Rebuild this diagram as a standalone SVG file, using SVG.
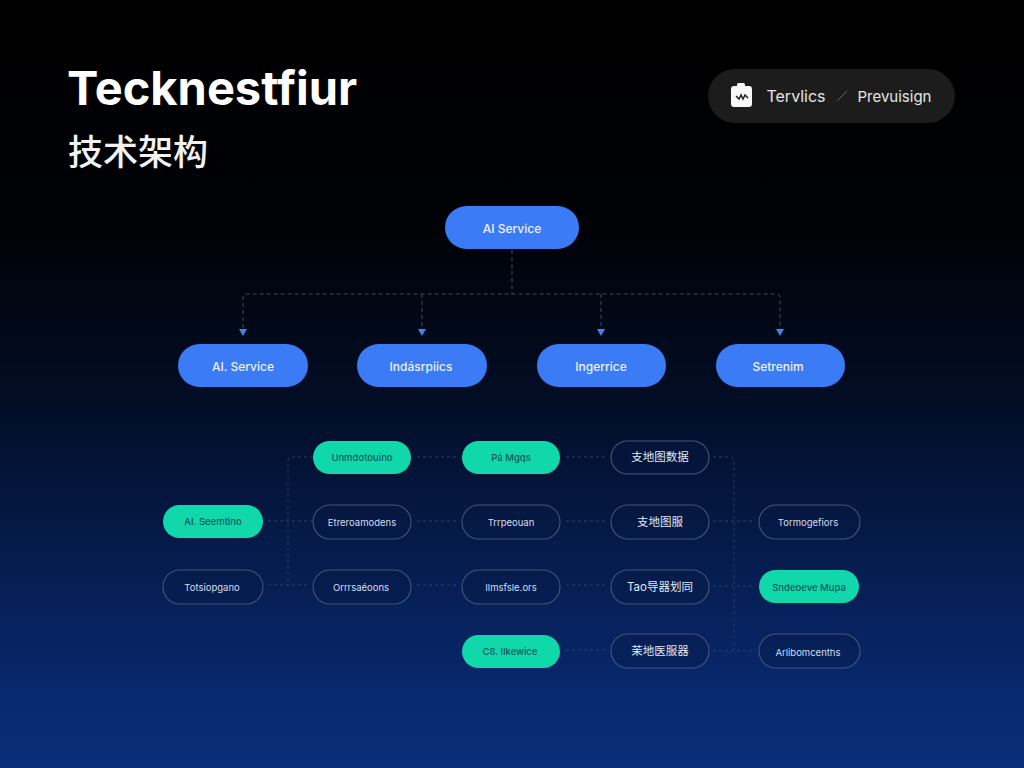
<svg xmlns="http://www.w3.org/2000/svg" width="1024" height="768" viewBox="0 0 1024 768">
<style>
text{font-family:"Inter","Liberation Sans","Noto Sans CJK SC",sans-serif;text-anchor:middle;dominant-baseline:central}
.blue{fill:#3b7bf6}
.green{fill:#10d8aa}
.outline{fill:#071a44;fill-opacity:.35;stroke:#45547a;stroke-width:1.100}
.lb{fill:#eaf2ff;font-size:12px;font-weight:500}
.lg{fill:#0b5a5c;font-size:9.500px;font-weight:500}
.lo{fill:#d5deee;font-size:9.500px}
.lc{fill:#e3e9f5;font-size:11.500px}
.c{fill:none;stroke:#4d5d78;stroke-width:.8;stroke-dasharray:4 3}
.c2{fill:none;stroke:#33466f;stroke-width:.8;stroke-dasharray:3 3}
</style>
<defs>
<linearGradient id="bg" x1="0" y1="0" x2="0" y2="1">
<stop offset="0" stop-color="#000"/>
<stop offset=".3" stop-color="#000206"/>
<stop offset=".5" stop-color="#020c22"/>
<stop offset=".7" stop-color="#051a48"/>
<stop offset=".88" stop-color="#08276a"/>
<stop offset="1" stop-color="#0b2e7c"/>
</linearGradient>
<marker id="arr" markerWidth="8" markerHeight="7" refX="4" refY="6" orient="0" markerUnits="userSpaceOnUse" viewBox="0 0 8 7">
<path d="M0 0H8L4 7Z" fill="#3f86e6"/>
</marker>
</defs>
<rect width="1024" height="768" fill="url(#bg)"/>

<g id="header">
<text x="67" y="87" style="text-anchor:start;font-size:47px;font-weight:700" fill="#fff">Tecknestfiur</text>
<text x="68" y="149" style="text-anchor:start;font-size:35px;font-weight:500;font-family:'Noto Sans CJK SC',sans-serif" fill="#f2f2f2">技术架构</text>
</g>

<g id="badge">
<rect x="708" y="69" width="247" height="54" rx="27" fill="#1c1c1c"/>
<path d="M734 86h3v-1.500q0-1.500 1.500-1.500h5q1.500 0 1.500 1.500v1.500h4q3 0 3 3v15q0 3-3 3h-15q-3 0-3-3v-15q0-3 3-3z" fill="#f7f7f7"/>
<path d="M736 96l3 3 2-4 2 4 2-4 3 3" fill="none" stroke="#222" stroke-width="1.500"/>
<text x="796" y="96" fill="#e6e6e6" style="font-size:16px">Tervlics</text>
<path d="M837 101l10-10" stroke="#666" stroke-width="1"/>
<text x="894.500" y="96" fill="#e6e6e6" style="font-size:15px">Prevuisign</text>
</g>

<g id="connectors">
<path class="c" d="M512 250V294"/>
<path class="c" d="M243 335V298q0-4 4-4H776q4 0 4 4V335" marker-start="url(#arr)" marker-end="url(#arr)"/>
<path class="c" d="M422 294V335" marker-end="url(#arr)"/>
<path class="c" d="M601 294V335" marker-end="url(#arr)"/>
<path class="c2" d="M313 457H292q-4 0-4 4V585"/>
<path class="c2" d="M268 521H313"/>
<path class="c2" d="M268 585H308"/>
<path class="c2" d="M417 457H458M417 521H458M417 585H458"/>
<path class="c2" d="M566 457H607M566 521H607M566 585H607M566 650H607"/>
<path class="c2" d="M713 457H730q4 0 4 4V650"/>
<path class="c2" d="M713 521H755M713 586H755M713 651H755"/>
</g>

<g id="n-top"><rect class="blue" x="445" y="206" width="134" height="43" rx="21.500"/><text class="lb" x="512" y="228">AI Service</text></g>
<g id="n-a1"><rect class="blue" x="178" y="344" width="130" height="43" rx="21.500"/><text class="lb" x="243" y="366">AI. Service</text></g>
<g id="n-a2"><rect class="blue" x="357" y="344" width="130" height="43" rx="21.500"/><text class="lb" x="421" y="366">Indásrpiics</text></g>
<g id="n-a3"><rect class="blue" x="537" y="344" width="129" height="43" rx="21.500"/><text class="lb" x="601" y="366">Ingerrice</text></g>
<g id="n-a4"><rect class="blue" x="716" y="344" width="129" height="43" rx="21.500"/><text class="lb" x="778" y="366">Setrenim</text></g>

<g id="n-r1c1"><rect class="green" x="313" y="441" width="98" height="33" rx="16.500"/><text class="lg" x="362" y="457">Unmdotouino</text></g>
<g id="n-r1c2"><rect class="green" x="462" y="441" width="98" height="33" rx="16.500"/><text class="lg" x="511" y="457">Pá Mgqs</text></g>
<g id="n-r1c3"><rect class="outline" x="611" y="441" width="98" height="33" rx="16.500"/><text class="lc" x="660" y="457">支地图数据</text></g>

<g id="n-r2c0"><rect class="green" x="163" y="505" width="100" height="33" rx="16.500"/><text class="lg" x="213" y="521">AI. Seemtino</text></g>
<g id="n-r2c1"><rect class="outline" x="313" y="505" width="98" height="34" rx="17"/><text class="lo" x="362" y="522">Etreroamodens</text></g>
<g id="n-r2c2"><rect class="outline" x="462" y="505" width="98" height="34" rx="17"/><text class="lo" x="511" y="522">Trrpeouan</text></g>
<g id="n-r2c3"><rect class="outline" x="611" y="505" width="98" height="34" rx="17"/><text class="lc" x="660" y="522">支地图服</text></g>
<g id="n-r2c4"><rect class="outline" x="759" y="505" width="101" height="34" rx="17"/><text class="lo" x="808" y="522">Tormogefiors</text></g>

<g id="n-r3c0"><rect class="outline" x="163" y="570" width="100" height="34" rx="17"/><text class="lo" x="212" y="587">Totsiopgano</text></g>
<g id="n-r3c1"><rect class="outline" x="313" y="570" width="98" height="34" rx="17"/><text class="lo" x="361" y="587">Orrrsaéoons</text></g>
<g id="n-r3c2"><rect class="outline" x="462" y="570" width="98" height="34" rx="17"/><text class="lo" x="511" y="587">Ilmsfsle.ors</text></g>
<g id="n-r3c3"><rect class="outline" x="611" y="570" width="98" height="34" rx="17"/><text class="lc" x="660" y="587">Tao导器划同</text></g>
<g id="n-r3c4"><rect class="green" x="759" y="570" width="100" height="33" rx="16.500"/><text class="lg" x="809" y="587">Sndeoeve Mupa</text></g>

<g id="n-r4c2"><rect class="green" x="462" y="635" width="98" height="33" rx="16.500"/><text class="lg" x="510" y="651">C8. Ilkewice</text></g>
<g id="n-r4c3"><rect class="outline" x="611" y="634" width="98" height="34" rx="17"/><text class="lc" x="660" y="651">茉地医服器</text></g>
<g id="n-r4c4"><rect class="outline" x="759" y="634" width="101" height="34" rx="17"/><text class="lo" x="808" y="652">Arlibomcenths</text></g>
</svg>
